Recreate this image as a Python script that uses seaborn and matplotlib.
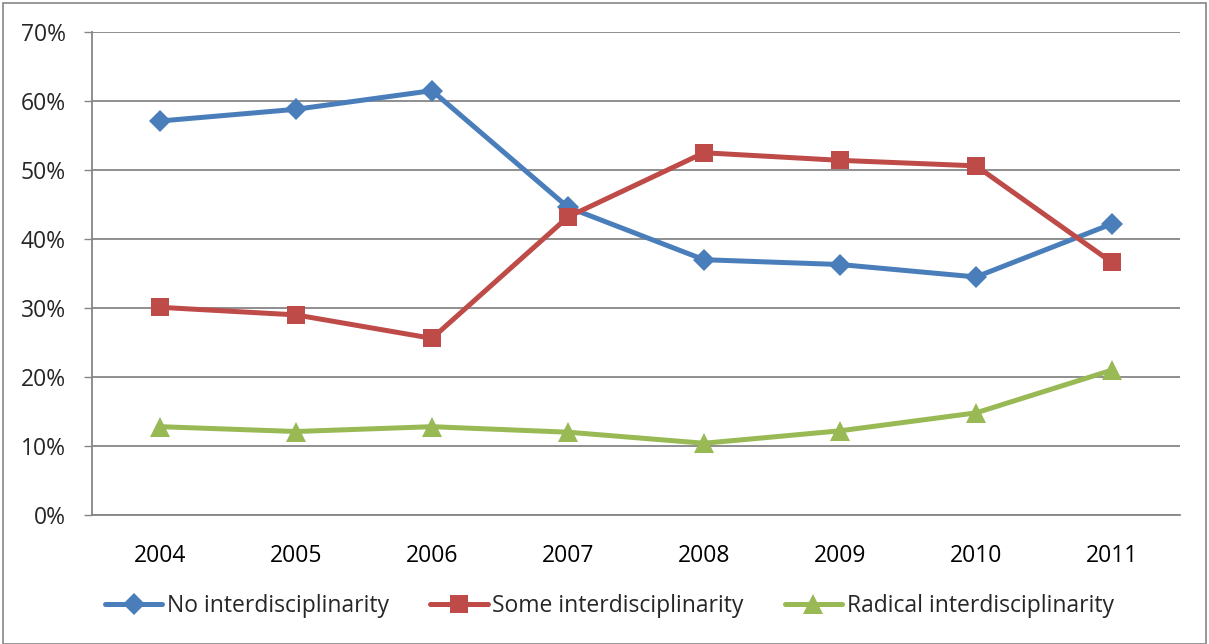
import matplotlib
matplotlib.use("Agg")
import matplotlib.pyplot as plt
import matplotlib.ticker as mticker
from matplotlib.lines import Line2D
from matplotlib.patches import Rectangle
import pandas as pd
import seaborn as sns

years = ["2004", "2005", "2006", "2007", "2008", "2009", "2010", "2011"]
no_inter = [57.1, 58.8, 61.5, 44.6, 37.0, 36.3, 34.5, 42.2]
some_inter = [30.1, 29.0, 25.6, 43.2, 52.5, 51.4, 50.6, 36.6]
radical_inter = [12.8, 12.1, 12.8, 12.0, 10.4, 12.2, 14.8, 21.0]
series_names = ["No interdisciplinarity", "Some interdisciplinarity", "Radical interdisciplinarity"]

colors = ["#4A7EBB", "#BE4B48", "#98B954"]
markers = ["D", "s", "^"]
marker_sizes = [11, 13, 14]

rows = []
for name, vals in zip(series_names, [no_inter, some_inter, radical_inter]):
    for i, (yr, v) in enumerate(zip(years, vals)):
        rows.append({"pos": i, "year": yr, "value": v / 100.0, "series": name})
df = pd.DataFrame(rows)

sns.set_theme(style="white")
plt.rcParams["font.family"] = ["Open Sans", "DejaVu Sans"]

fig = plt.figure(figsize=(12.09, 6.44), dpi=100)
ax = fig.add_axes([92 / 1209, 1 - 515 / 644, (1180 - 92) / 1209, (515 - 32) / 644])

for name, c, m, ms in zip(series_names, colors, markers, marker_sizes):
    sub = df[df["series"] == name]
    sns.lineplot(data=sub, x="pos", y="value", ax=ax, color=c, linewidth=3.6,
                 marker=m, markersize=ms, markeredgewidth=0, legend=False, zorder=3)

ax.set_xlim(-0.5, len(years) - 0.5)
ax.set_ylim(0, 0.70)
ax.yaxis.set_major_locator(mticker.MultipleLocator(0.10))
ax.yaxis.set_major_formatter(mticker.FuncFormatter(lambda v, p: f"{v * 100:.0f}%"))
ax.set_xticks(range(len(years)))
ax.set_xticklabels(years)
ax.set_xticks([i - 0.5 for i in range(len(years) + 1)], minor=True)
ax.tick_params(axis="x", which="major", length=0, pad=21, labelsize=16.5, colors="black")
ax.tick_params(axis="x", which="minor", length=7, width=1, color="#868686", direction="out")
ax.tick_params(axis="y", which="major", length=6, width=1, color="#868686", pad=13,
               labelsize=16.5, left=True, direction="out")
ax.set_xlabel("")
ax.set_ylabel("")

ax.grid(axis="y", color="#868686", linewidth=1.3, zorder=0)
ax.grid(axis="x", visible=False)
for side in ["top", "right"]:
    ax.spines[side].set_visible(False)
ax.spines["left"].set_color("#868686")
ax.spines["bottom"].set_color("#868686")
ax.spines["left"].set_linewidth(1.3)
ax.spines["bottom"].set_linewidth(1.3)

handles = [Line2D([0], [0], color=c, linewidth=3.6, marker=m, markersize=ms, markeredgewidth=0)
           for c, m, ms in zip(colors, markers, marker_sizes)]
fig.legend(handles, series_names, loc="center", bbox_to_anchor=(0.504, 1 - 606 / 644),
           ncol=3, frameon=False, fontsize=16.5, handlelength=2.5, handletextpad=0.2,
           columnspacing=1.8)

fig.patches.append(Rectangle((3 / 1209, 0.0), 1203 / 1209, 1 - 3 / 644, transform=fig.transFigure,
                             fill=False, edgecolor="#868686", linewidth=1.2))

fig.savefig("out.png", dpi=100)
